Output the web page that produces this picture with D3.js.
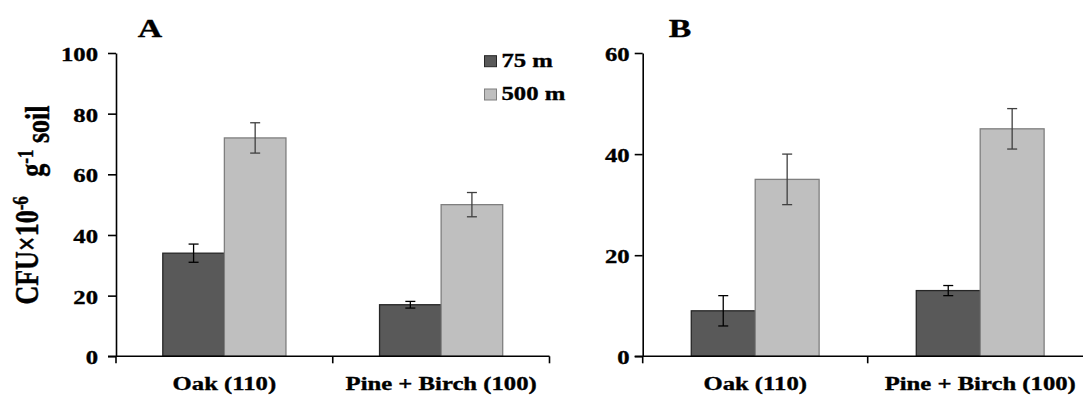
<!DOCTYPE html>
<html>
<head>
<meta charset="utf-8">
<script src="https://cdn.jsdelivr.net/npm/d3@7"></script>
<style>
  html, body { margin: 0; padding: 0; background: #fff; }
  svg { display: block; }
  text { font-family: "Liberation Serif", "Times New Roman", serif; font-weight: bold; fill: #000; stroke: #000; stroke-width: 0.35px; }
</style>
</head>
<body>
<svg id="chart" width="1083" height="396"></svg>
<script>
// Culturable counts per forest type at two distances
const categories = ["Oak (110)", "Pine + Birch (100)"];
const seriesNames = ["75 m", "500 m"];

const panelA_75 = [34, 17];
const panelA_500 = [72, 50];
const panelA_75err = [3, 1.1];
const panelA_500err = [5, 4];

const panelB_75 = [9, 13];
const panelB_500 = [35, 45];
const panelB_75err = [3, 1];
const panelB_500err = [5, 4];

const ticksA = [0, 20, 40, 60, 80, 100];
const ticksB = [0, 20, 40, 60];

const fills = { "75 m": "#595959", "500 m": "#bfbfbf" };
const strokes = { "75 m": "#262626", "500 m": "#7f7f7f" };
const errColors = { "75 m": "#000000", "500 m": "#404040" };

const SX = 1.3; // horizontal text stretch
const svg = d3.select("#chart");

function panel(opts) {
  const { x0, x1, yMax, ticks, v75, v500, e75, e500, title, titleX, labelPad } = opts;
  const y = d3.scaleLinear().domain([0, yMax]).range([356.3, 53]);
  const x = d3.scaleBand().domain(categories).range([x0, x1]).padding(0);
  const xs = d3.scaleBand().domain(seriesNames).range([0, x.bandwidth()])
    .paddingInner(0).paddingOuter(0.76);

  const g = svg.append("g");

  const rows = [];
  categories.forEach((c, i) => {
    rows.push({ cat: c, s: "75 m", v: v75[i], e: e75[i] });
    rows.push({ cat: c, s: "500 m", v: v500[i], e: e500[i] });
  });

  // bars
  g.selectAll("rect.bar").data(rows).join("rect")
    .attr("class", "bar")
    .attr("x", d => x(d.cat) + xs(d.s))
    .attr("y", d => y(d.v))
    .attr("width", xs.bandwidth())
    .attr("height", d => y(0) - y(d.v))
    .attr("fill", d => fills[d.s])
    .attr("stroke", d => strokes[d.s])
    .attr("stroke-width", 1.3);

  // error bars
  const eb = g.selectAll("g.err").data(rows).join("g").attr("class", "err")
    .attr("stroke", d => errColors[d.s]).attr("stroke-width", 1.3);
  const cx = d => x(d.cat) + xs(d.s) + xs.bandwidth() / 2;
  eb.append("line")
    .attr("x1", cx).attr("x2", cx)
    .attr("y1", d => y(d.v + d.e)).attr("y2", d => y(d.v - d.e));
  eb.append("line")
    .attr("x1", d => cx(d) - 5).attr("x2", d => cx(d) + 5)
    .attr("y1", d => y(d.v + d.e)).attr("y2", d => y(d.v + d.e));
  eb.append("line")
    .attr("x1", d => cx(d) - 5).attr("x2", d => cx(d) + 5)
    .attr("y1", d => y(d.v - d.e)).attr("y2", d => y(d.v - d.e));

  // y axis
  const ya = g.append("g").attr("transform", `translate(${x0},0)`)
    .call(d3.axisLeft(y).tickValues(ticks).tickSize(8).tickSizeOuter(0).tickFormat(d3.format("d")));
  ya.select(".domain").attr("stroke", "#000").attr("stroke-width", 1.6);
  ya.selectAll(".tick line").attr("stroke", "#000").attr("stroke-width", 1.6);
  ya.selectAll(".tick text")
    .attr("x", null).attr("dy", "0.35em")
    .attr("transform", `translate(${-labelPad},1) scale(${SX},1)`)
    .style("font-family", "'Liberation Serif', serif")
    .style("font-weight", "bold")
    .style("font-size", "19px")
    .attr("fill", "#000");

  // x axis: baseline with ticks at category boundaries
  const xa = g.append("g");
  xa.append("line")
    .attr("x1", x0 - 8).attr("x2", x1).attr("y1", y(0)).attr("y2", y(0))
    .attr("stroke", "#000").attr("stroke-width", 1.6);
  const bounds = categories.map(c => x(c)).concat([x.range()[1]]);
  xa.selectAll("line.xt").data(bounds).join("line")
    .attr("class", "xt")
    .attr("x1", d => d).attr("x2", d => d)
    .attr("y1", y(0)).attr("y2", y(0) + 7)
    .attr("stroke", "#000").attr("stroke-width", 1.6);
  xa.selectAll("text.cat").data(categories).join("text")
    .attr("class", "cat")
    .attr("text-anchor", "middle")
    .attr("transform", d => `translate(${x(d) + x.bandwidth() / 2},390) scale(${SX},1)`)
    .style("font-size", "19px")
    .text(d => d);

  // panel letter
  g.append("text")
    .attr("text-anchor", "middle")
    .attr("transform", `translate(${titleX},37) scale(${SX},1)`)
    .style("font-size", "26px")
    .text(title);

  return { y, x };
}

panel({ x0: 116, x1: 549.5, yMax: 100, ticks: ticksA,
  v75: panelA_75, v500: panelA_500, e75: panelA_75err, e500: panelA_500err,
  title: "A", titleX: 150, labelPad: 18 });

panel({ x0: 642.7, x1: 1092.7, yMax: 60, ticks: ticksB,
  v75: panelB_75, v500: panelB_500, e75: panelB_75err, e500: panelB_500err,
  title: "B", titleX: 680, labelPad: 13 });

// y-axis title
const yt = svg.append("text")
  .attr("text-anchor", "middle")
  .attr("transform", `translate(38,205) scale(${SX},1) rotate(-90)`)
  .style("font-size", "26px");
yt.append("tspan").text("CFU×10");
yt.append("tspan").attr("dy", "-0.45em").style("font-size", "17px").text("-6");
yt.append("tspan").attr("dy", "0.45em").text("\u00a0\u00a0\u00a0g");
yt.append("tspan").attr("dy", "-0.45em").style("font-size", "17px").text("-1");
yt.append("tspan").attr("dy", "0.45em").text(" soil");

// legend
const legend = svg.append("g");
seriesNames.forEach((s, i) => {
  const ly = 55.7 + i * 33.3;
  legend.append("rect")
    .attr("x", 484.5).attr("y", ly).attr("width", 12).attr("height", 11)
    .attr("fill", fills[s]).attr("stroke", strokes[s]).attr("stroke-width", 1);
  legend.append("text")
    .attr("transform", `translate(501.5,${ly + 11}) scale(${SX},1)`)
    .style("font-size", "19px")
    .text(s);
});
</script>
</body>
</html>
